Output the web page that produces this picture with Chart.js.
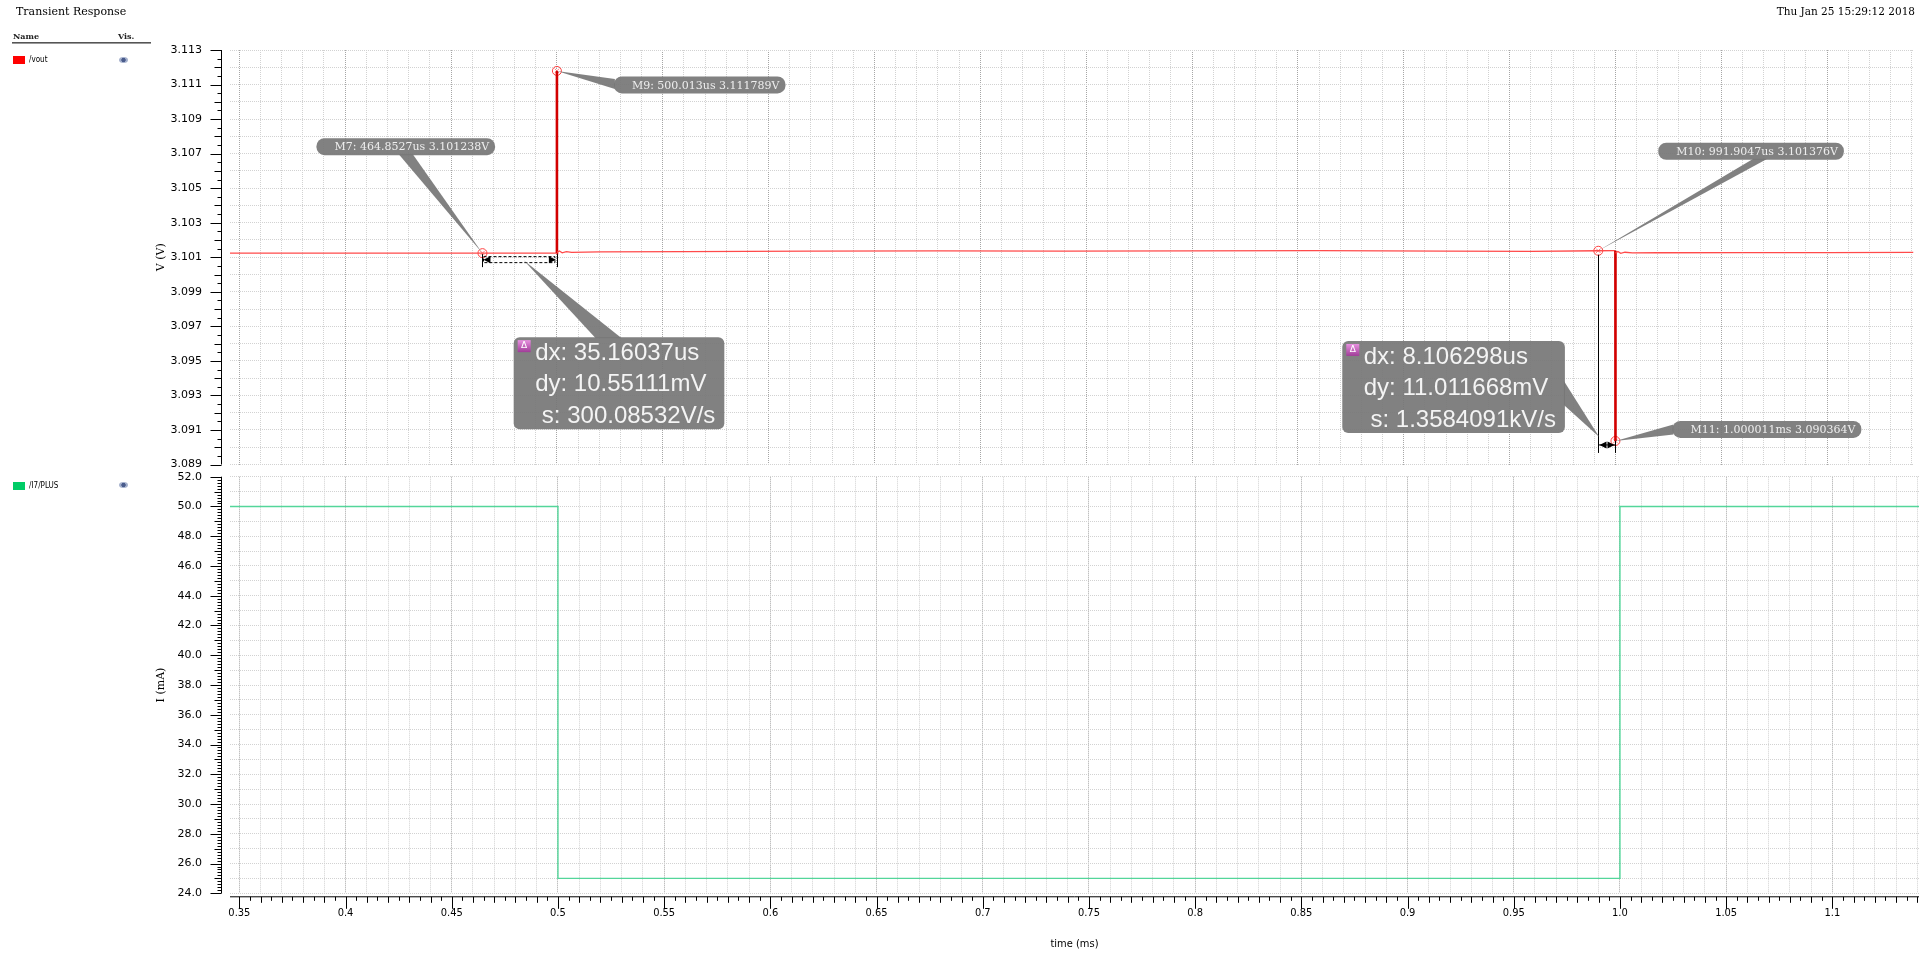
<!DOCTYPE html>
<html>
<head>
<meta charset="utf-8">
<title>Transient Response</title>
<script src="https://cdn.jsdelivr.net/npm/chart.js@4.4.1/dist/chart.umd.min.js"></script>
<style>
  html, body { margin: 0; padding: 0; background: #fff; width: 1919px; height: 954px; overflow: hidden; }
  canvas { position: absolute; left: 0; }
  #vChart { top: 0; }
  #iChart { top: 470px; }
  .lbl { position: absolute; white-space: nowrap; color: #000; font-family: 'DejaVu Serif', serif; }
  .hdr { font-size: 8px; font-weight: bold; color: #222; }
  .sig { font-family: 'DejaVu Sans Condensed', 'DejaVu Sans', sans-serif; font-size: 8px; }
  .sw { position: absolute; width: 12px; height: 8px; }
  .eye { position: absolute; width: 9px; height: 6px; border-radius: 50%;
         background: radial-gradient(circle, #4a5c8c 0 35%, #a4b0cc 45% 100%); }
  .rule { position: absolute; left: 12px; top: 42px; width: 139px; height: 1px; background: #555; border-bottom: 1px solid #999; }
</style>
</head>
<body>
<canvas id="vChart" width="1919" height="470"></canvas>
<canvas id="iChart" width="1919" height="484"></canvas>

<div class="lbl" style="left:16px;top:5px;font-size:11px;">Transient Response</div>
<div class="lbl" style="right:4px;top:5px;font-size:10.5px;">Thu Jan 25 15:29:12 2018</div>
<div class="lbl hdr" style="left:13px;top:31px;">Name</div>
<div class="lbl hdr" style="left:118px;top:31px;">Vis.</div>
<div class="rule"></div>
<div class="sw" style="left:13px;top:56px;background:#ff0000;"></div>
<div class="lbl sig" style="left:29px;top:55px;">/vout</div>
<div class="eye" style="left:119px;top:57px;"></div>
<div class="sw" style="left:13px;top:482px;background:#00cc66;"></div>
<div class="lbl sig" style="left:29px;top:481px;">/I7/PLUS</div>
<div class="eye" style="left:119px;top:482px;"></div>

<script>
// ---- shared time axis ----
const timeRange = [0.3456, 1.1408];                 // ms
const timeTickLabels = ['0.35', '0.4', '0.45', '0.5', '0.55', '0.6', '0.65', '0.7',
                        '0.75', '0.8', '0.85', '0.9', '0.95', '1.0', '1.05', '1.1'];
const timeTickValues = [0.35, 0.4, 0.45, 0.5, 0.55, 0.6, 0.65, 0.7,
                        0.75, 0.8, 0.85, 0.9, 0.95, 1.0, 1.05, 1.1];

// ---- /vout (V) ----
const voltRange = [3.089, 3.113];
const voltTickLabels = ['3.089', '3.091', '3.093', '3.095', '3.097', '3.099', '3.101',
                        '3.103', '3.105', '3.107', '3.109', '3.111', '3.113'];
const voutTime = [0.3456, 0.38, 0.42, 0.4648527, 0.4999, 0.500013, 0.50004, 0.5012, 0.5025,
                  0.5045, 0.507, 0.52, 0.56, 0.62, 0.68, 0.74, 0.80, 0.86, 0.92, 0.96,
                  0.9919047, 0.99999, 1.000011, 1.00004, 1.0012, 1.0025, 1.0045, 1.008,
                  1.02, 1.06, 1.10, 1.1408];
const voutVolt = [3.10124, 3.10124, 3.101238, 3.101238, 3.10124, 3.111789, 3.10128, 3.10136, 3.10126,
                  3.10133, 3.10128, 3.10131, 3.10133, 3.10136, 3.10137, 3.10136, 3.10137, 3.10138, 3.10135, 3.10134,
                  3.101376, 3.10138, 3.090364, 3.10124, 3.10133, 3.10123, 3.10129, 3.10125,
                  3.10126, 3.10127, 3.10127, 3.10128];

// markers placed on /vout
const markerNames = ['M7', 'M9', 'M10', 'M11'];
const markerTime = [0.4648527, 0.500013, 0.9919047, 1.000011];
const markerVolt = [3.101238, 3.111789, 3.101376, 3.090364];
const markerText = ['M7: 464.8527us 3.101238V', 'M9: 500.013us 3.111789V',
                    'M10: 991.9047us 3.101376V', 'M11: 1.000011ms 3.090364V'];

// delta readouts between marker pairs (M7→M9, M10→M11)
const deltaPairs = [[0, 1], [2, 3]];
const deltaKeys = ['dx:', 'dy:', ' s:'];
const deltaValues = [['35.16037us', '10.55111mV', '300.08532V/s'],
                     ['8.106298us', '11.011668mV', '1.3584091kV/s']];

// ---- /I7/PLUS (mA) ----
const currentRange = [24, 52];
const currentTickLabels = ['24.0', '26.0', '28.0', '30.0', '32.0', '34.0', '36.0', '38.0',
                           '40.0', '42.0', '44.0', '46.0', '48.0', '50.0', '52.0'];
const plusTime = [0.3456, 0.5, 0.5, 1.0, 1.0, 1.1408];
const plusCurrent = [50, 50, 25, 25, 50, 50];

// ------------------------------------------------------------------
const AXIS_X = 221.5;
const tickFont = { family: "'DejaVu Sans', sans-serif", size: 11 };
const near = (a, b, eps) => Math.abs(a - b) < eps;

function evenTicks(lo, hi, step) {
  const out = [];
  const n = Math.round((hi - lo) / step);
  for (let i = 0; i <= n; i++) out.push(+(lo + i * step).toFixed(6));
  return out;
}

function timeGrid(ctx) {
  const v = ctx.tick ? ctx.tick.value : 0;
  return timeTickValues.some(t => near(t, v, 1e-6)) ? '#a6a6a6' : '#d2d2d2';
}

function xScale(showLabels) {
  return {
    type: 'linear', min: timeRange[0], max: timeRange[1],
    afterBuildTicks: s => { s.ticks = evenTicks(0.35, 1.14, 0.01).map(v => ({ value: v })); },
    afterFit: s => { s.height = showLabels ? 60.7 : 0; s.paddingLeft = 0; s.paddingRight = 0; },
    grid: { color: timeGrid, lineWidth: 1, drawTicks: false },
    border: { display: false, dash: [1, 1] },
    ticks: {
      display: showLabels, autoSkip: false, maxRotation: 0, padding: 13,
      color: '#000', font: { family: "'DejaVu Sans Condensed', 'DejaVu Sans', sans-serif", size: 11 },
      callback: v => {
        const i = timeTickValues.findIndex(t => near(t, v, 1e-6));
        return i >= 0 ? timeTickLabels[i] : '';
      }
    },
    title: {
      display: showLabels, text: 'time (ms)', color: '#000',
      font: { family: "'DejaVu Sans Condensed', 'DejaVu Sans', sans-serif", size: 11 },
      padding: { top: 0, bottom: 3 }
    }
  };
}

function yScale(range, step, labels, labelStep, title) {
  return {
    type: 'linear', min: range[0], max: range[1],
    afterBuildTicks: s => { s.ticks = evenTicks(range[0], range[1], step).map(v => ({ value: v })); },
    // fixed width; no extra room reserved above/below for the end labels
    afterFit: s => { s.width = 78; s.paddingTop = 0; s.paddingBottom = 0; },
    grid: { color: '#d2d2d2', lineWidth: 1, drawTicks: false },
    border: { display: false, dash: [1, 1] },
    ticks: {
      autoSkip: false, padding: 28, color: '#000', font: tickFont,
      callback: v => {
        const k = (v - range[0]) / labelStep;
        return near(k, Math.round(k), 1e-4) ? labels[Math.round(k)] : '';
      }
    },
    title: { display: true, text: title, color: '#000', font: { family: "'DejaVu Serif', serif", size: 11 },
             padding: { top: 3, bottom: 0 } }
  };
}

// axis line plus fine tick marks, drawn a few pixels left of the plot area
function axisDeco(id) {
  return {
    id,
    afterDraw(chart, args, o) {
      const { ctx, chartArea: a } = chart;
      const ys = chart.scales.y;
      ctx.save();
      ctx.strokeStyle = '#000';
      ctx.lineWidth = 1;
      ctx.beginPath();
      ctx.moveTo(AXIS_X, a.top);
      ctx.lineTo(AXIS_X, a.bottom);
      const n = Math.round((o.max - o.min) / o.minor);
      for (let i = 0; i <= n; i++) {
        const py = Math.round(ys.getPixelForValue(o.min + i * o.minor)) + 0.5;
        const len = (i % o.majorEvery === 0) ? 11 : (o.midEvery && i % o.midEvery === 0 ? 7 : 4);
        ctx.moveTo(AXIS_X - len, py);
        ctx.lineTo(AXIS_X, py);
      }
      ctx.stroke();
      if (o.timeAxis) {
        const xs = chart.scales.x;
        const yy = a.bottom + 3.5;
        ctx.beginPath();
        ctx.moveTo(a.left, yy);
        ctx.lineTo(a.right, yy);
        const m = Math.round((1.14 - 0.345) / 0.005);
        for (let i = 0; i <= m; i++) {
          const v = 0.345 + i * 0.005;
          const px = Math.round(xs.getPixelForValue(v)) + 0.5;
          if (px < a.left) continue;
          const major = i % 10 === 1;
          const mid = i % 2 === 1;
          const len = major ? 12 : (mid ? 6 : 4);
          ctx.moveTo(px, yy);
          ctx.lineTo(px, yy + len);
        }
        ctx.stroke();
      }
      ctx.restore();
    }
  };
}

// marker labels, callouts and delta readouts
const markerDeco = {
  id: 'markerDeco',
  afterDatasetsDraw(chart) {
    const { ctx } = chart;
    const xs = chart.scales.x, ys = chart.scales.y;
    const P = markerTime.map((t, i) => ({ x: xs.getPixelForValue(t), y: ys.getPixelForValue(markerVolt[i]) }));
    const grey = 'rgba(118,118,118,0.92)';

    function rrect(x, y, w, h, r) {
      ctx.beginPath();
      ctx.moveTo(x + r, y);
      ctx.arcTo(x + w, y, x + w, y + h, r);
      ctx.arcTo(x + w, y + h, x, y + h, r);
      ctx.arcTo(x, y + h, x, y, r);
      ctx.arcTo(x, y, x + w, y, r);
      ctx.closePath();
      ctx.fill();
    }
    function wedge(tip, b1, b2) {
      ctx.beginPath();
      ctx.moveTo(tip.x, tip.y);
      ctx.lineTo(b1.x, b1.y);
      ctx.lineTo(b2.x, b2.y);
      ctx.closePath();
      ctx.fill();
    }

    ctx.save();
    ctx.fillStyle = grey;

    // marker label boxes: offsets from the marked point, and where the callout leaves the box
    const boxes = [
      { dx: -166, dy: -115, side: 'bottom', at: 0.5 },
      { dx: 57, dy: 5.5, side: 'left', at: 0.45 },
      { dx: 60, dy: -108, side: 'bottom', at: 0.55 },
      { dx: 57, dy: -20, side: 'left', at: 0.5 }
    ];
    ctx.font = "11px 'DejaVu Serif', serif";
    markerText.forEach((txt, i) => {
      const b = boxes[i], p = P[i];
      const w = ctx.measureText(txt).width + 24, h = 17;
      const bx = p.x + b.dx, by = p.y + b.dy;
      ctx.fillStyle = grey;
      if (b.side === 'bottom') {
        const cx = bx + w * b.at;
        wedge(p, { x: cx - 7, y: by + h - 1 }, { x: cx + 7, y: by + h - 1 });
      } else {
        const cy = by + h * b.at;
        wedge(p, { x: bx + 1, y: cy - 5 }, { x: bx + 1, y: cy + 5 });
      }
      rrect(bx, by, w, h, 8);
      ctx.fillStyle = '#eeeeee';
      ctx.textBaseline = 'middle';
      ctx.textAlign = 'left';
      ctx.fillText(txt, bx + 18, by + h / 2 + 1);
    });

    // delta measurement guides
    ctx.strokeStyle = '#000';
    ctx.fillStyle = '#000';
    ctx.lineWidth = 1;
    function arrowHead(x, y, dir) {
      ctx.beginPath();
      ctx.moveTo(x, y);
      ctx.lineTo(x - dir * 7, y - 3.5);
      ctx.lineTo(x - dir * 7, y + 3.5);
      ctx.closePath();
      ctx.fill();
    }
    // first pair: horizontal dashed span just below the baseline
    const a0 = P[deltaPairs[0][0]], a1 = P[deltaPairs[0][1]];
    const yA = a0.y + 6;
    ctx.beginPath();
    ctx.moveTo(Math.round(a0.x) + 0.5, yA - 5); ctx.lineTo(Math.round(a0.x) + 0.5, yA + 8);
    ctx.moveTo(Math.round(a1.x) + 0.5, yA - 5); ctx.lineTo(Math.round(a1.x) + 0.5, yA + 8);
    ctx.stroke();
    ctx.setLineDash([3, 2]);
    ctx.strokeRect(Math.round(a0.x) + 1.5, yA - 2.5, a1.x - a0.x - 3, 6);
    ctx.setLineDash([]);
    arrowHead(a0.x + 1, yA + 0.5, -1);
    arrowHead(a1.x - 1, yA + 0.5, 1);
    // second pair: drop line from M10, span at the foot
    const b0 = P[deltaPairs[1][0]], b1 = P[deltaPairs[1][1]];
    const yB = b1.y + 4;
    const bx0 = Math.round(b0.x) + 0.5, bx1 = Math.round(b1.x) + 0.5;
    ctx.beginPath();
    ctx.moveTo(bx0, b0.y + 4); ctx.lineTo(bx0, yB + 8);
    ctx.moveTo(bx1, yB - 4); ctx.lineTo(bx1, yB + 8);
    ctx.moveTo(bx0, yB); ctx.lineTo(bx1, yB);
    ctx.stroke();
    arrowHead(bx0 + 1, yB, -1);
    arrowHead(bx1 - 1, yB, 1);

    // delta readout boxes
    const dBoxes = [
      { x: (a0.x + a1.x) / 2 - 6, y: yA + 78, tip: { x: (a0.x + a1.x) / 2 + 4, y: yA + 1 }, side: 'top' },
      { x: b0.x - 256, y: yB - 104, tip: { x: b0.x + 1, y: yB - 8 }, side: 'right' }
    ];
    const bigFont = "24px 'Liberation Sans', Arial, sans-serif";
    deltaValues.forEach((vals, k) => {
      const d = dBoxes[k];
      ctx.font = bigFont;
      const lines = deltaKeys.map((key, r) => key + ' ' + vals[r]);
      const maxW = Math.max(...lines.map(s => ctx.measureText(s).width));
      const w = 21.5 + maxW + 9, h = 92;
      const bx = d.x, by = d.y;
      ctx.fillStyle = grey;
      if (d.side === 'top') {
        wedge(d.tip, { x: bx + 82, y: by + 1 }, { x: bx + 108, y: by + 1 });
      } else {
        wedge(d.tip, { x: bx + w - 1, y: by + 40 }, { x: bx + w - 1, y: by + 64 });
      }
      rrect(bx, by, w, h, 6);
      // delta badge
      const g = ctx.createLinearGradient(0, by + 3, 0, by + 15);
      g.addColorStop(0, '#e890e0'); g.addColorStop(1, '#a03c98');
      ctx.fillStyle = g;
      ctx.fillRect(bx + 4, by + 3, 13, 12);
      ctx.fillStyle = '#fff';
      ctx.font = "9px 'DejaVu Sans', sans-serif";
      ctx.textAlign = 'center'; ctx.textBaseline = 'middle';
      ctx.fillText('Δ', bx + 10.5, by + 9);
      ctx.font = bigFont;
      ctx.fillStyle = '#f4f4f4';
      ctx.textAlign = 'left';
      lines.forEach((s, r) => ctx.fillText(s, bx + 21.5, by + 16 + r * 31.5));
    });
    ctx.restore();
  }
};

const commonOpts = {
  responsive: false,
  animation: false,
  devicePixelRatio: 1,
  plugins: { legend: { display: false }, tooltip: { enabled: false } }
};

// ---- /vout panel ----
new Chart(document.getElementById('vChart'), {
  type: 'line',
  data: {
    datasets: [
      {
        data: voutTime.map((t, i) => ({ x: t, y: voutVolt[i] })),
        borderColor: '#ff4a4a', borderWidth: 1.3, pointRadius: 0, tension: 0,
        segment: {
          borderColor: c => Math.abs(c.p1.parsed.y - c.p0.parsed.y) > 0.003 ? '#d20000' : undefined,
          borderWidth: c => Math.abs(c.p1.parsed.y - c.p0.parsed.y) > 0.003 ? 2.6 : undefined
        }
      },
      {
        data: markerTime.map((t, i) => ({ x: t, y: markerVolt[i] })),
        showLine: false, pointRadius: 4.5, pointStyle: 'circle',
        pointBorderColor: '#ff4040', pointBackgroundColor: 'rgba(255,255,255,0)', pointBorderWidth: 1
      },
      {
        data: markerTime.map((t, i) => ({ x: t, y: markerVolt[i] })),
        showLine: false, pointRadius: 3.2, pointStyle: 'crossRot',
        pointBorderColor: '#ff6060', pointBorderWidth: 0.8
      }
    ]
  },
  options: {
    ...commonOpts,
    layout: { padding: { left: 152, right: 0, top: 50, bottom: 5 } },
    scales: {
      x: xScale(false),
      y: yScale(voltRange, 0.001, voltTickLabels, 0.002, 'V (V)')
    },
    plugins: {
      ...commonOpts.plugins,
      axisDecoV: { min: voltRange[0], max: voltRange[1], minor: 0.0005, majorEvery: 4, midEvery: 2 }
    }
  },
  plugins: [axisDeco('axisDecoV'), markerDeco]
});

// ---- /I7/PLUS panel ----
new Chart(document.getElementById('iChart'), {
  type: 'line',
  data: {
    datasets: [{
      data: plusTime.map((t, i) => ({ x: t, y: plusCurrent[i] })),
      borderColor: '#54d69a', borderWidth: 1.4, pointRadius: 0, tension: 0
    }]
  },
  options: {
    ...commonOpts,
    layout: { padding: { left: 152, right: 0, top: 6.7, bottom: 0 } },
    scales: {
      x: xScale(true),
      y: yScale(currentRange, 1, currentTickLabels, 2, 'I (mA)')
    },
    plugins: {
      ...commonOpts.plugins,
      axisDecoI: { min: currentRange[0], max: currentRange[1], minor: 0.2, majorEvery: 10, midEvery: 5, timeAxis: true }
    }
  },
  plugins: [axisDeco('axisDecoI')]
});
</script>
</body>
</html>
